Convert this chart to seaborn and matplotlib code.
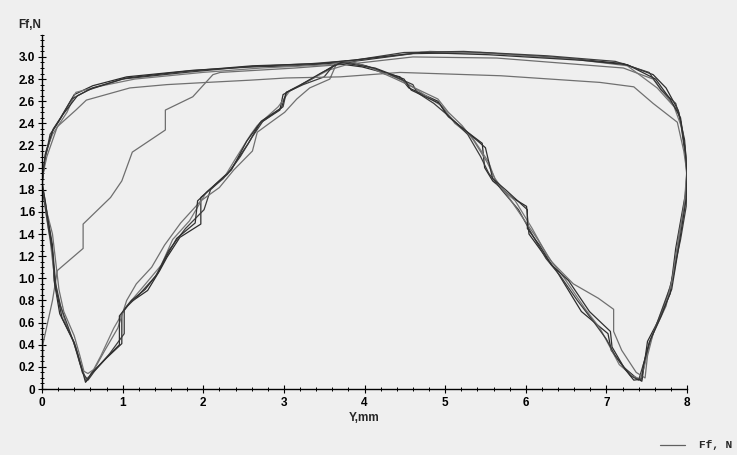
import numpy as np
import pandas as pd
import matplotlib
matplotlib.use('Agg')
import matplotlib.pyplot as plt
import seaborn as sns
from matplotlib.lines import Line2D
from matplotlib.ticker import MultipleLocator, FixedLocator, FuncFormatter

# Ff (N) vs Y (mm)
# cycle 0: first stroke, starting from zero load
cycle0 = [(0.00, 0.00), (0.01, 0.40), (0.13, 0.80), (0.19, 1.07), (0.51, 1.27), (0.51, 1.49),
          (0.85, 1.73), (0.99, 1.88), (1.12, 2.14), (1.53, 2.34), (1.53, 2.52), (1.87, 2.64),
          (2.12, 2.84), (2.21, 2.86), (3.14, 2.90), (3.87, 2.94), (4.60, 3.00), (5.64, 2.99),
          (6.69, 2.93), (7.21, 2.90), (7.58, 2.80), (7.74, 2.65), (7.90, 2.50), (7.97, 2.20),
          (8.00, 1.98)]

cycle1 = [(0.00, 1.85), (0.04, 2.10), (0.14, 2.35), (0.23, 2.45), (0.40, 2.66), (0.63, 2.74),
          (1.05, 2.82), (1.88, 2.88), (2.61, 2.91), (3.14, 2.92), (3.76, 2.95), (4.60, 3.03),
          (5.44, 3.04), (6.48, 2.99), (7.21, 2.94), (7.58, 2.84), (7.74, 2.72), (7.89, 2.52),
          (7.97, 2.25), (8.00, 1.97),
          (7.98, 1.76), (7.86, 1.27), (7.79, 0.86), (7.66, 0.64), (7.51, 0.43), (7.44, 0.07),
          (7.37, 0.10), (7.21, 0.20), (7.06, 0.35), (7.02, 0.50), (6.69, 0.70), (6.38, 1.07),
          (6.22, 1.22), (6.04, 1.40), (6.01, 1.65), (5.83, 1.73), (5.59, 1.88), (5.49, 2.00),
          (5.46, 2.22), (5.17, 2.38), (5.02, 2.48), (4.91, 2.60), (4.55, 2.72), (4.44, 2.82),
          (3.97, 2.91), (3.66, 2.94),
          (3.37, 2.81), (3.12, 2.71), (2.99, 2.66), (2.95, 2.52), (2.70, 2.40), (2.56, 2.22),
          (2.33, 1.97), (2.17, 1.86), (1.97, 1.73), (1.97, 1.49), (1.71, 1.37), (1.55, 1.19),
          (1.46, 1.07), (1.31, 0.89), (1.09, 0.78), (0.99, 0.68), (0.99, 0.41), (0.80, 0.28),
          (0.63, 0.15), (0.55, 0.07),
          (0.47, 0.23), (0.39, 0.43), (0.22, 0.68), (0.15, 0.98), (0.13, 1.30), (0.07, 1.55),
          (0.03, 1.72), (0.00, 1.85)]

cycle2 = [(0.00, 1.88), (0.05, 2.15), (0.13, 2.30), (0.31, 2.50), (0.42, 2.68), (0.68, 2.73),
          (1.15, 2.80), (1.99, 2.86), (2.72, 2.90), (3.55, 2.93), (4.08, 2.99), (4.81, 3.05),
          (5.64, 3.03), (6.59, 2.98), (7.26, 2.92), (7.63, 2.72), (7.84, 2.55), (7.94, 2.35),
          (8.00, 2.00),
          (7.97, 1.70), (7.89, 1.30), (7.84, 1.05), (7.74, 0.80), (7.55, 0.45), (7.47, 0.20),
          (7.42, 0.09),
          (7.32, 0.12), (7.16, 0.22), (6.92, 0.55), (6.74, 0.72), (6.48, 1.00), (6.27, 1.20),
          (6.08, 1.45), (5.87, 1.70), (5.64, 1.85), (5.54, 2.05), (5.33, 2.28), (5.12, 2.40),
          (4.97, 2.55), (4.76, 2.65), (4.49, 2.78), (4.18, 2.88), (3.87, 2.95),
          (3.55, 2.88), (3.29, 2.78), (3.08, 2.70), (2.93, 2.55), (2.67, 2.38), (2.59, 2.30),
          (2.40, 2.08), (2.25, 1.90), (2.04, 1.78), (1.83, 1.52), (1.62, 1.35), (1.48, 1.12),
          (1.25, 0.92), (1.05, 0.75), (0.89, 0.55), (0.73, 0.30), (0.60, 0.12), (0.54, 0.09),
          (0.49, 0.20), (0.42, 0.38), (0.29, 0.60), (0.19, 0.85), (0.14, 1.10), (0.10, 1.35),
          (0.05, 1.58), (0.02, 1.75), (0.00, 1.88)]

cycle3 = [(0.00, 1.82), (0.03, 2.05), (0.10, 2.30), (0.21, 2.42), (0.37, 2.62), (0.57, 2.70),
          (0.99, 2.80), (1.78, 2.86), (2.51, 2.91), (3.35, 2.94), (3.87, 2.97), (4.49, 3.04),
          (5.23, 3.05), (6.27, 3.01), (7.11, 2.96), (7.53, 2.86), (7.68, 2.70), (7.86, 2.58),
          (7.92, 2.42), (7.98, 2.10), (8.00, 1.90),
          (7.99, 1.65), (7.92, 1.35), (7.86, 1.15), (7.79, 0.92), (7.63, 0.60), (7.53, 0.40),
          (7.47, 0.25), (7.40, 0.08),
          (7.30, 0.12), (7.11, 0.30), (7.00, 0.45), (6.85, 0.60), (6.64, 0.80), (6.43, 1.02),
          (6.25, 1.18), (6.06, 1.42), (5.91, 1.62), (5.70, 1.80), (5.54, 1.95), (5.44, 2.10),
          (5.28, 2.30), (5.07, 2.45), (4.86, 2.58), (4.65, 2.68), (4.60, 2.75), (4.29, 2.85),
          (4.02, 2.92), (3.76, 2.96),
          (3.61, 2.92), (3.50, 2.82), (3.24, 2.75), (3.03, 2.68), (2.99, 2.55), (2.74, 2.42),
          (2.61, 2.28), (2.46, 2.10), (2.30, 1.94), (2.09, 1.80), (2.01, 1.62), (1.78, 1.45),
          (1.57, 1.25), (1.41, 1.02), (1.20, 0.85), (1.02, 0.72), (1.02, 0.50), (0.84, 0.32),
          (0.65, 0.16), (0.57, 0.08),
          (0.50, 0.15), (0.44, 0.32), (0.33, 0.55), (0.23, 0.75), (0.17, 0.95), (0.14, 1.20),
          (0.08, 1.45), (0.04, 1.65), (0.00, 1.82)]

cycle4 = [(0.00, 1.90), (0.06, 2.10), (0.19, 2.37), (0.42, 2.52), (0.55, 2.61), (1.09, 2.72),
          (1.55, 2.75), (2.05, 2.77), (2.58, 2.79), (3.03, 2.81), (3.70, 2.82), (4.44, 2.86),
          (5.69, 2.83), (6.92, 2.77), (7.34, 2.73), (7.58, 2.58), (7.88, 2.41), (7.96, 2.15),
          (8.00, 1.95),
          (7.98, 1.70), (7.90, 1.40), (7.82, 1.00), (7.74, 0.75), (7.58, 0.50), (7.51, 0.30),
          (7.48, 0.10),
          (7.37, 0.15), (7.19, 0.35), (7.09, 0.52), (7.09, 0.72), (6.90, 0.82), (6.59, 0.95),
          (6.32, 1.15), (6.15, 1.35), (5.96, 1.55), (5.80, 1.72), (5.62, 1.90), (5.52, 2.05),
          (5.35, 2.25), (5.21, 2.38), (5.04, 2.50), (4.91, 2.62), (4.68, 2.70), (4.39, 2.80),
          (4.08, 2.90), (3.82, 2.96),
          (3.66, 2.95), (3.57, 2.80), (3.32, 2.72), (3.16, 2.62), (3.01, 2.50), (2.82, 2.40),
          (2.67, 2.32), (2.61, 2.15), (2.38, 1.98), (2.20, 1.82), (1.97, 1.70), (1.72, 1.50),
          (1.52, 1.30), (1.36, 1.10), (1.17, 0.95), (1.05, 0.80), (0.94, 0.55), (0.78, 0.35),
          (0.65, 0.18), (0.57, 0.14),
          (0.52, 0.16), (0.47, 0.30), (0.40, 0.48), (0.27, 0.70), (0.21, 0.90), (0.17, 1.15),
          (0.13, 1.40), (0.06, 1.60), (0.02, 1.78), (0.00, 1.90)]

cycle5 = [(0.00, 1.86), (0.04, 2.12), (0.13, 2.33), (0.26, 2.48), (0.44, 2.65), (0.63, 2.72),
          (1.05, 2.81), (1.78, 2.87), (2.61, 2.92), (3.45, 2.94), (3.97, 2.98), (4.70, 3.04),
          (5.54, 3.02), (6.69, 2.97), (7.26, 2.93), (7.61, 2.80), (7.79, 2.62), (7.92, 2.45),
          (7.98, 2.15), (8.00, 1.95),
          (7.99, 1.72), (7.89, 1.25), (7.81, 0.90), (7.68, 0.66), (7.53, 0.42), (7.46, 0.22),
          (7.44, 0.09),
          (7.34, 0.08), (7.23, 0.18), (7.07, 0.38), (7.05, 0.52), (6.79, 0.70), (6.53, 0.98),
          (6.32, 1.12), (6.17, 1.30), (6.02, 1.45), (6.02, 1.62), (5.75, 1.80), (5.59, 1.90),
          (5.50, 2.18), (5.23, 2.35), (5.04, 2.46), (4.93, 2.58), (4.58, 2.70), (4.49, 2.80),
          (4.13, 2.90), (3.71, 2.95),
          (3.45, 2.85), (3.19, 2.74), (3.03, 2.68), (2.97, 2.54), (2.72, 2.42), (2.54, 2.24),
          (2.35, 1.98), (2.15, 1.85), (1.93, 1.70), (1.90, 1.50), (1.67, 1.36), (1.53, 1.18),
          (1.44, 1.05), (1.28, 0.90), (1.11, 0.80), (0.96, 0.66), (0.96, 0.40), (0.77, 0.26),
          (0.61, 0.14), (0.54, 0.06),
          (0.48, 0.22), (0.40, 0.42), (0.25, 0.64), (0.16, 0.95), (0.13, 1.25), (0.08, 1.50),
          (0.04, 1.70), (0.00, 1.86)]

cycles = {'c0': cycle0, 'c1': cycle1, 'c2': cycle2, 'c3': cycle3, 'c4': cycle4, 'c5': cycle5}
line_colors = {'c0': '#6e6e6e', 'c1': '#2c2c2c', 'c2': '#777777', 'c3': '#3c3c3c',
               'c4': '#707070', 'c5': '#303030'}

frames = []
for name, pts in cycles.items():
    d = pd.DataFrame(pts, columns=['Y', 'Ff'])
    d['cycle'] = name
    frames.append(d)
df = pd.concat(frames, ignore_index=True)

sns.set_theme(style='ticks')
plt.rcParams['font.family'] = ['Liberation Sans', 'DejaVu Sans']
plt.rcParams['font.weight'] = 'bold'

bg = '#efefef'
W, H = 737, 455
x0, x8 = 42, 687          # pixel columns of Y=0 and Y=8
y0, ytop = 389, 34.8      # pixel rows of Ff=0 and Ff=3.2
fig = plt.figure(figsize=(W / 100, H / 100), dpi=100, facecolor=bg)
ax = fig.add_axes([x0 / W, 1 - y0 / H, (x8 - x0) / W, (y0 - ytop) / H])
ax.set_facecolor(bg)

sns.lineplot(data=df, x='Y', y='Ff', hue='cycle', units='cycle', estimator=None,
             sort=False, palette=line_colors, lw=0.9, legend=False, ax=ax)

ax.set_xlim(0, 8)
ax.set_ylim(0, 3.2)
ax.set_xlabel('')
ax.set_ylabel('')
for s in ['top', 'right']:
    ax.spines[s].set_visible(False)
for s in ['left', 'bottom']:
    ax.spines[s].set_color('black')
    ax.spines[s].set_linewidth(1.0)

ax.xaxis.set_major_locator(MultipleLocator(1))
ax.xaxis.set_minor_locator(MultipleLocator(0.2))
ax.yaxis.set_major_locator(FixedLocator([0, 0.2, 0.4, 0.6, 0.8, 1.0, 1.2, 1.4, 1.6, 1.8,
                                         2.0, 2.2, 2.4, 2.6, 2.8, 3.0]))
ax.yaxis.set_minor_locator(MultipleLocator(0.05))
ax.xaxis.set_major_formatter(FuncFormatter(lambda v, p: f'{v:.0f}'))
ax.yaxis.set_major_formatter(FuncFormatter(lambda v, p: '0' if abs(v) < 1e-9 else f'{v:.1f}'))
ax.tick_params(which='major', direction='inout', length=6, width=0.8, colors='black',
               labelsize=8.5, pad=2)
ax.tick_params(which='minor', direction='inout', length=3.5, width=0.7, colors='black')
ax.tick_params(axis='x', which='major', pad=3)

fig.text(18 / W, 1 - 25 / H, 'Ff,N', fontsize=8.5, fontweight='bold', va='center')
fig.text(364 / W, 1 - 418 / H, 'Y,mm', fontsize=8.5, fontweight='bold',
         ha='center', va='center')

# legend entry at the bottom right
fig.add_artist(Line2D([660 / W, 685 / W], [1 - 445 / H] * 2, transform=fig.transFigure,
                      color='#606060', lw=0.9))
fig.text(699 / W, 1 - 445 / H, 'Ff, N', family='Liberation Mono', fontsize=8,
         fontweight='bold', va='center')

fig.savefig('out.png', dpi=100, facecolor=bg)
